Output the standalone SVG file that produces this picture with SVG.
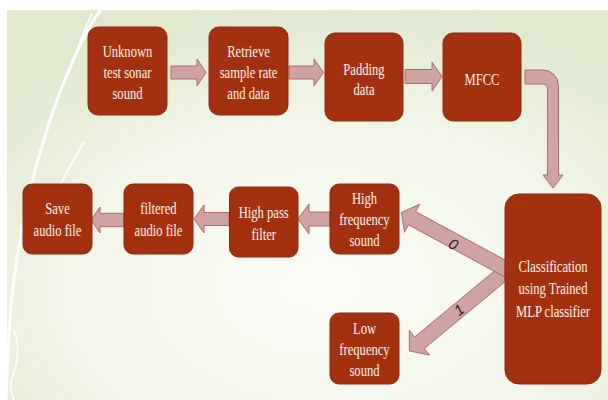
<svg xmlns="http://www.w3.org/2000/svg" width="608" height="400" viewBox="0 0 608 400">
  <defs>
    <radialGradient id="bg" cx="0.55" cy="0.72" r="0.75" fx="0.52" fy="0.7">
      <stop offset="0" stop-color="#FBFCF7"/>
      <stop offset="0.55" stop-color="#F3F6EA"/>
      <stop offset="1" stop-color="#E0E8CD"/>
    </radialGradient>
    <style>
      .box { fill: #A3300E; stroke: #8C2A0E; stroke-width: 1; }
      .lbl { font-family: "Liberation Serif", "Times New Roman", serif; font-size: 17.5px; fill: #FFF4EA; text-anchor: middle; }
      .arw { fill: #CFA3A2; stroke: #B06A66; stroke-width: 1; stroke-linejoin: miter; }
      .bit { font-family: "Liberation Sans", Arial, sans-serif; font-size: 15px; font-style: italic; fill: #2A2020; text-anchor: middle; dominant-baseline: central; }
      .brush { fill: none; stroke: #FFFFFF; stroke-linecap: round; }
    </style>
  </defs>

  <!-- backdrop -->
  <rect x="0" y="0" width="608" height="400" fill="#FFFFFF"/>
  <rect x="7" y="10" width="601" height="390" fill="url(#bg)"/>

  <!-- decorative brush strokes on the left -->
  <path class="brush" stroke-width="3" d="M100,11 C88,26 76,52 64,82 C52,112 40,150 30,190 C22,225 15,265 11,305 C9,335 7,365 6,400"/>
  <path class="brush" stroke-width="1.6" d="M92,14 C84,30 77,48 70,70"/>
  <path class="brush" stroke-width="2" d="M83,143 C75,158 66,172 58,190"/>
  <path class="brush" stroke-width="1.6" d="M14,330 C20,345 18,365 12,378 C9,386 11,394 14,400"/>

  <!-- connectors -->
  <g id="connectors">
    <!-- top row, left to right -->
    <polygon class="arw" points="171,66 197,66 197,59 206,72.5 197,86 197,79 171,79"/>
    <polygon class="arw" points="289,66 314,66 314,59 323.5,72.5 314,86 314,79 289,79"/>
    <polygon class="arw" points="405,69.5 432,69.5 432,62 442,76.5 432,91 432,83.5 405,83.5"/>
    <!-- MFCC down to classifier -->
    <path class="arw" d="M525,70 H543 A15.5,15.5 0 0 1 558.5,85.5 V175 H563 L553,188 L543,175 H547.5 V88 A4,4 0 0 0 543.5,84 H525 Z"/>
    <!-- bottom row, right to left -->
    <polygon class="arw" points="124,213.3 100,213.3 100,207 91,220 100,233 100,226.7 124,226.7"/>
    <polygon class="arw" points="229,212.5 204,212.5 204,205 194,219 204,233 204,225.5 229,225.5"/>
    <polygon class="arw" points="330,212 309,212 309,204 298,219 309,234 309,226 330,226"/>
    <!-- classifier outputs -->
    <polygon class="arw" points="409.5,351 409.31,330.37 414.74,336.93 505,262.2 505,281.7 424.31,348.49 429.73,355.05"/>
    <polygon class="arw" points="401.5,212.5 419.67,204.15 415.62,211.62 505,260 505,277.1 408.48,224.8 404.43,232.27"/>
    <text class="bit" transform="translate(453.5,244) rotate(29)">0</text>
    <text class="bit" transform="translate(459,309.5) rotate(-38)">1</text>
  </g>

  <!-- nodes -->
  <g id="unknown-sound">
    <rect class="box" x="88" y="27" width="79" height="88" rx="10"/>
    <text class="lbl" transform="translate(127.5,56.7) scale(0.72,1)">Unknown</text>
    <text class="lbl" transform="translate(127.5,77.7) scale(0.72,1)">test sonar</text>
    <text class="lbl" transform="translate(127.5,98.7) scale(0.72,1)">sound</text>
  </g>
  <g id="retrieve">
    <rect class="box" x="209" y="27" width="79" height="88" rx="10"/>
    <text class="lbl" transform="translate(248.5,56.7) scale(0.72,1)">Retrieve</text>
    <text class="lbl" transform="translate(248.5,77.7) scale(0.72,1)">sample rate</text>
    <text class="lbl" transform="translate(248.5,98.7) scale(0.72,1)">and data</text>
  </g>
  <g id="padding">
    <rect class="box" x="325" y="33" width="78" height="88" rx="10"/>
    <text class="lbl" transform="translate(364,74.5) scale(0.72,1)">Padding</text>
    <text class="lbl" transform="translate(364,95) scale(0.72,1)">data</text>
  </g>
  <g id="mfcc">
    <rect class="box" x="443" y="33" width="78" height="88" rx="10"/>
    <text class="lbl" transform="translate(482,84.5) scale(0.72,1)">MFCC</text>
  </g>
  <g id="classifier">
    <rect class="box" x="505" y="194" width="96" height="190" rx="14"/>
    <text class="lbl" transform="translate(553,271.7) scale(0.72,1)">Classification</text>
    <text class="lbl" transform="translate(553,294.2) scale(0.72,1)">using Trained</text>
    <text class="lbl" transform="translate(553,316.7) scale(0.72,1)">MLP classifier</text>
  </g>
  <g id="high-frequency">
    <rect class="box" x="330" y="184" width="69" height="70" rx="9"/>
    <text class="lbl" transform="translate(364.5,203.5) scale(0.72,1)">High</text>
    <text class="lbl" transform="translate(364.5,224.5) scale(0.72,1)">frequency</text>
    <text class="lbl" transform="translate(364.5,246) scale(0.72,1)">sound</text>
  </g>
  <g id="low-frequency">
    <rect class="box" x="330" y="313" width="69" height="71" rx="9"/>
    <text class="lbl" transform="translate(364.5,333.5) scale(0.72,1)">Low</text>
    <text class="lbl" transform="translate(364.5,354.5) scale(0.72,1)">frequency</text>
    <text class="lbl" transform="translate(364.5,376) scale(0.72,1)">sound</text>
  </g>
  <g id="high-pass">
    <rect class="box" x="229.5" y="187" width="68.5" height="70" rx="9"/>
    <text class="lbl" transform="translate(263.7,218) scale(0.72,1)">High pass</text>
    <text class="lbl" transform="translate(263.7,239.5) scale(0.72,1)">filter</text>
  </g>
  <g id="filtered">
    <rect class="box" x="124" y="184" width="69" height="70" rx="9"/>
    <text class="lbl" transform="translate(158.5,214) scale(0.72,1)">filtered</text>
    <text class="lbl" transform="translate(158.5,236) scale(0.72,1)">audio file</text>
  </g>
  <g id="save">
    <rect class="box" x="23" y="184" width="69" height="70" rx="9"/>
    <text class="lbl" transform="translate(57.5,214) scale(0.72,1)">Save</text>
    <text class="lbl" transform="translate(57.5,236) scale(0.72,1)">audio file</text>
  </g>
</svg>
